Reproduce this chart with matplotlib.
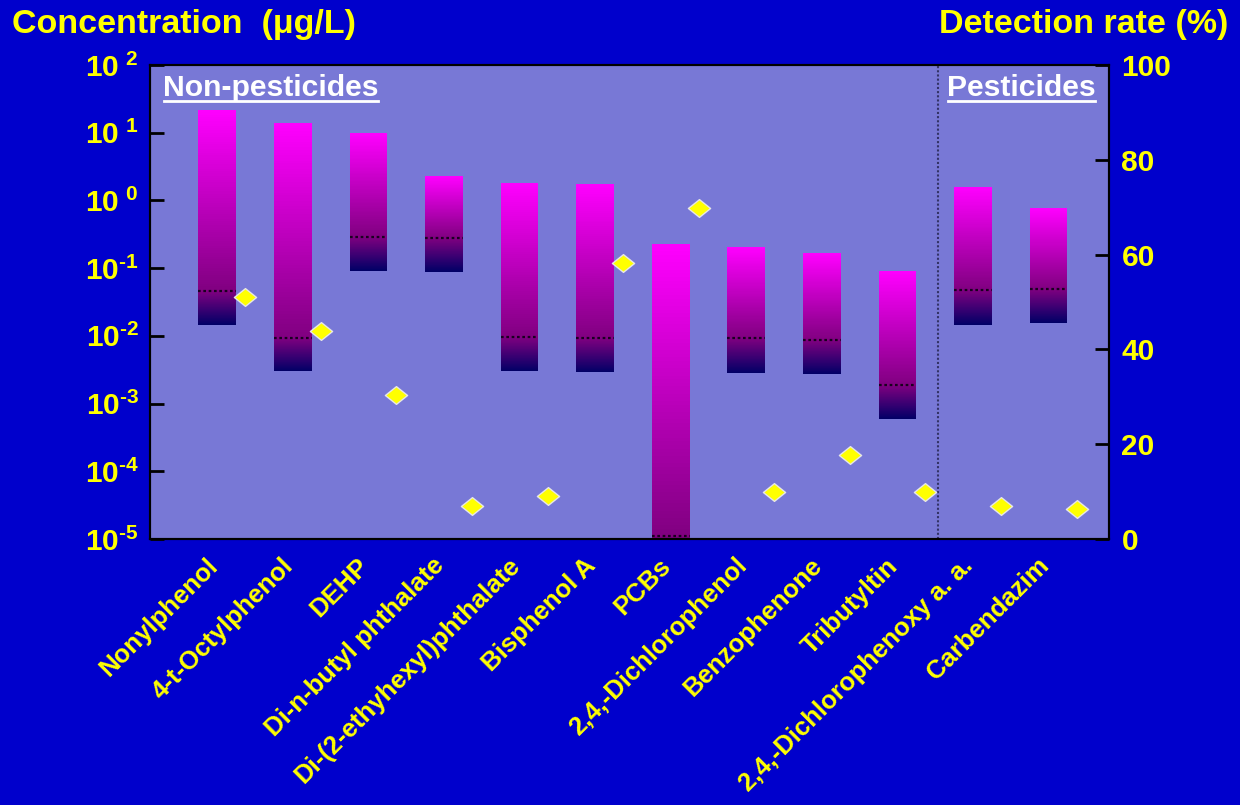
import numpy as np
import matplotlib as mpl
import matplotlib.pyplot as plt
from matplotlib.path import Path
from matplotlib.lines import Line2D
from matplotlib.colors import to_rgb

plt.rcParams['font.family'] = ['Liberation Sans', 'DejaVu Sans']
plt.rcParams['font.weight'] = 'bold'
plt.rcParams['mathtext.fontset'] = 'custom'
plt.rcParams['mathtext.rm'] = 'Liberation Sans:bold'
plt.rcParams['mathtext.bf'] = 'Liberation Sans:bold'

# compounds and their concentration ranges (ug/L) + detection rates (%)
compounds = ['Nonylphenol', '4-t-Octylphenol', 'DEHP', 'Di-n-butyl phthalate',
             'Di-(2-ethyhexyl)phthalate', 'Bisphenol A', 'PCBs', '2,4,-Dichlorophenol',
             'Benzophenone', 'Tributyltin', '2,4,-Dichlorophenoxy a. a.', 'Carbendazim']
conc_max = [21.6, 13.9, 9.9, 2.29, 1.81, 1.75, 0.227, 0.205, 0.167, 0.0906, 1.58, 0.772]
conc_median = [0.046, 0.0094, 0.291, 0.279, 0.0096, 0.0093, 1.1e-5, 0.0093, 0.0087, 0.00187, 0.0475, 0.049]
conc_min = [0.0146, 0.0030, 0.0916, 0.0886, 0.0030, 0.0029, 3e-6, 0.00282, 0.00273, 0.00059, 0.0146, 0.0156]
detection = [51.0, 43.9, 30.4, 7.0, 9.1, 58.2, 69.8, 9.9, 17.7, 9.9, 7.0, 6.3]

bg = '#0000CC'
plotbg = '#7878D6'
yellow = '#FFFF00'
top_col = np.array(to_rgb('#FF00FF'))
mid_col = np.array(to_rgb('#800080'))
low_col = np.array(to_rgb('#000066'))

fig = plt.figure(figsize=(12.4, 8.05), dpi=100, facecolor=bg)
ax = fig.add_axes([150/1240, 1-539/805, 959/1240, 474/805])
ax.set_facecolor(plotbg)
ax.set_yscale('log')
ax.set_ylim(1e-5, 1e2)
ax.set_xlim(-0.89, 11.8)

x = np.arange(len(compounds))
width = 0.5
nslices = 80


def gradient_bar(xpos, lo, hi, c_lo, c_hi):
    # stack thin slices between lo and hi, colour blended in log space
    edges = np.geomspace(lo, hi, nslices + 1)
    t = (np.arange(nslices) + 0.5) / nslices
    cols = [tuple(c_lo + (c_hi - c_lo) * tt) for tt in t]
    ax.bar(np.full(nslices, xpos), np.diff(edges), bottom=edges[:-1], width=width,
           color=cols, linewidth=0, antialiased=False, zorder=2)


for i in range(len(compounds)):
    gradient_bar(x[i], conc_median[i], conc_max[i], mid_col, top_col)
    gradient_bar(x[i], conc_min[i], conc_median[i], low_col, mid_col)

ax.hlines(conc_median, x - width/2, x + width/2, colors='#1a0020',
          linestyles=(0, (1.2, 1.2)), linewidth=1.6, zorder=3)

# separator between non-pesticides and pesticides
ax.axvline(9.54, color='#333366', linestyle=(0, (1, 1)), linewidth=1.5, zorder=1)

hy = '\u2010'
ax.set_yticks([10.0**k for k in range(-5, 3)])
ax.set_yticklabels([r'$\mathbf{10^{%s5}}$' % hy, r'$\mathbf{10^{%s4}}$' % hy,
                    r'$\mathbf{10^{%s3}}$' % hy, r'$\mathbf{10^{%s2}}$' % hy,
                    r'$\mathbf{10^{%s1}}$' % hy, r'$\mathbf{10^{\ 0}}$',
                    r'$\mathbf{10^{\ 1}}$', r'$\mathbf{10^{\ 2}}$'])
ax.yaxis.set_minor_locator(mpl.ticker.NullLocator())
ax.tick_params(axis='y', direction='in', length=10, width=2, color='black',
               labelcolor=yellow, labelsize=21.5, pad=8)
ax.set_xticks([])
for s in ax.spines.values():
    s.set_color('black')
    s.set_linewidth(1.5)

for i, name in enumerate(compounds):
    ax.annotate(name, xy=(x[i], 0), xycoords=('data', 'axes fraction'),
                xytext=(-8.5, -10.5), textcoords='offset points',
                rotation=45, rotation_mode='anchor', ha='right', va='top',
                color=yellow, fontsize=18.5, fontweight='bold')

# detection rate on the right axis
ax2 = ax.twinx()
ax2.set_ylim(0, 100)
ax2.set_yticks([0, 20, 40, 60, 80, 100])
ax2.tick_params(axis='y', direction='in', length=10, width=2, color='black',
                labelcolor=yellow, labelsize=21.5, pad=9)
for s in ax2.spines.values():
    s.set_color('black')
    s.set_linewidth(1.5)
diamond = Path([(-1, 0), (0, 0.8), (1, 0), (0, -0.8), (-1, 0)],
               [Path.MOVETO, Path.LINETO, Path.LINETO, Path.LINETO, Path.CLOSEPOLY])
ax2.plot(x + 0.37, detection, linestyle='none', marker=diamond, markersize=16,
         markerfacecolor=yellow, markeredgecolor='#E6E6E6', markeredgewidth=1, zorder=5)

# section headings, underlined
heads = []
for xf, txt in [(0.0136, 'Non-pesticides'), (0.831, 'Pesticides')]:
    heads.append(ax.text(xf, 0.922, txt, transform=ax.transAxes, color='white',
                         fontsize=21.7, fontweight='bold', va='bottom', ha='left', zorder=4))

fig.text(12/1240, 1 - 33/805, 'Concentration  (\u03bcg/L)', color=yellow,
         fontsize=24.5, fontweight='bold', va='baseline', ha='left')
fig.text(1228/1240, 1 - 33/805, 'Detection rate (%)', color=yellow,
         fontsize=24.5, fontweight='bold', va='baseline', ha='right')

fig.canvas.draw()
for h in heads:
    bb = h.get_window_extent()
    fig.add_artist(Line2D([bb.x0 + 1, bb.x1 - 1], [bb.y0 + 1, bb.y0 + 1], color='white',
                          linewidth=2, transform=mpl.transforms.IdentityTransform()))

fig.savefig('out.png', dpi=100, facecolor=bg)
